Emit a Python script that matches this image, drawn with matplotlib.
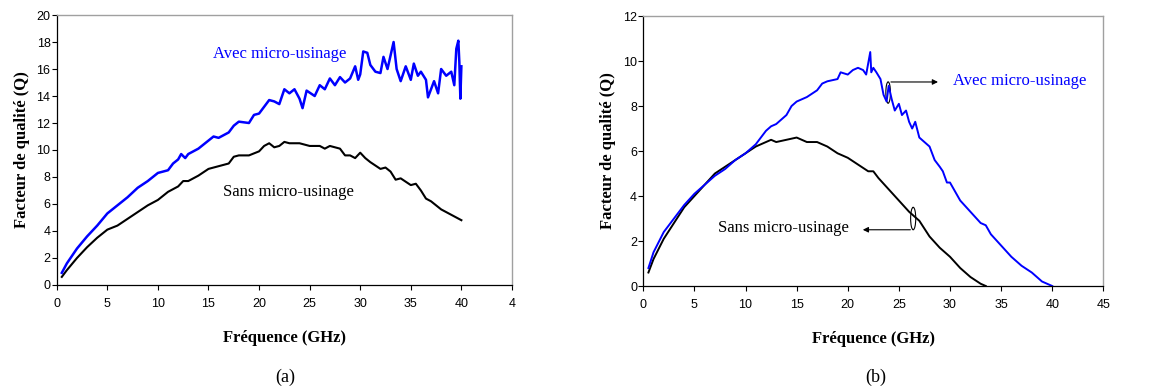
import matplotlib
matplotlib.use("Agg")
import matplotlib.pyplot as plt
from matplotlib.patches import Ellipse

# ---------------- data ----------------
# Panel (a)
a_avec_f = [0.5, 1, 2, 3, 4, 5, 6, 7, 8, 9, 10, 11, 11.5, 12, 12.3, 12.7, 13, 14, 15, 15.5,
            16, 17, 17.5, 18, 19, 19.5, 20, 20.5, 21, 21.5, 22, 22.5, 23, 23.5, 24, 24.3, 24.7,
            25.5, 26, 26.5, 27, 27.5, 28, 28.5, 29, 29.5, 29.8, 30, 30.3, 30.7, 31, 31.5, 32,
            32.3, 32.7, 33, 33.3, 33.6, 34, 34.5, 35, 35.3, 35.7, 36, 36.5, 36.7, 37, 37.3,
            37.7, 38, 38.5, 39, 39.3, 39.5, 39.7, 39.8, 39.9, 40]
a_avec_q = [0.9, 1.6, 2.7, 3.6, 4.4, 5.3, 5.9, 6.5, 7.2, 7.7, 8.3, 8.5, 9.0, 9.3, 9.7, 9.4, 9.7,
            10.1, 10.7, 11.0, 10.9, 11.3, 11.8, 12.1, 12.0, 12.6, 12.7, 13.2, 13.7, 13.6, 13.4,
            14.5, 14.2, 14.5, 13.8, 13.1, 14.4, 14.0, 14.8, 14.5, 15.3, 14.8, 15.4, 15.0, 15.3,
            16.2, 15.2, 15.6, 17.3, 17.2, 16.3, 15.8, 15.7, 16.9, 16.0, 17.0, 18.0, 16.0, 15.1,
            16.2, 15.2, 16.4, 15.5, 15.8, 15.2, 13.9, 14.5, 15.1, 14.2, 16.0, 15.5, 15.8, 14.8,
            17.5, 18.1, 16.5, 13.8, 16.2]

a_sans_f = [0.5, 1, 2, 3, 4, 5, 6, 7, 8, 9, 10, 11, 12, 12.5, 13, 14, 15, 16, 17, 17.5, 18, 19,
            20, 20.5, 21, 21.5, 22, 22.5, 23, 24, 25, 26, 26.5, 27, 28, 28.5, 29, 29.5, 30,
            30.5, 31, 32, 32.5, 33, 33.5, 34, 35, 35.5, 36, 36.5, 37, 38, 39, 40]
a_sans_q = [0.6, 1.1, 2.0, 2.8, 3.5, 4.1, 4.4, 4.9, 5.4, 5.9, 6.3, 6.9, 7.3, 7.7, 7.7, 8.1, 8.6,
            8.8, 9.0, 9.5, 9.6, 9.6, 9.9, 10.3, 10.5, 10.2, 10.3, 10.6, 10.5, 10.5, 10.3, 10.3,
            10.1, 10.3, 10.1, 9.6, 9.6, 9.4, 9.8, 9.4, 9.1, 8.6, 8.7, 8.4, 7.8, 7.9, 7.4, 7.5,
            7.0, 6.4, 6.2, 5.6, 5.2, 4.8]

# Panel (b)
b_avec_f = [0.5, 1, 2, 3, 4, 5, 6, 7, 8, 9, 10, 10.5, 11, 11.5, 12, 12.5, 13, 14, 14.5, 15, 16,
            17, 17.5, 18, 19, 19.3, 20, 20.5, 21, 21.5, 21.8, 22.2, 22.3, 22.5, 22.8, 23.2,
            23.5, 23.8, 24, 24.3, 24.6, 25, 25.3, 25.7, 26, 26.3, 26.6, 27, 28, 28.5, 29, 29.3,
            29.7, 30, 30.5, 31, 32, 33, 33.5, 34, 35, 36, 37, 38, 39, 40]
b_avec_q = [0.8, 1.5, 2.4, 3.0, 3.6, 4.1, 4.5, 4.9, 5.2, 5.6, 5.9, 6.1, 6.3, 6.6, 6.9, 7.1, 7.2,
            7.6, 8.0, 8.2, 8.4, 8.7, 9.0, 9.1, 9.2, 9.5, 9.4, 9.6, 9.7, 9.6, 9.4, 10.4, 9.5,
            9.7, 9.5, 9.2, 8.5, 8.2, 8.9, 8.3, 7.8, 8.1, 7.6, 7.8, 7.3, 7.0, 7.3, 6.6, 6.2, 5.6,
            5.3, 5.1, 4.6, 4.6, 4.2, 3.8, 3.3, 2.8, 2.7, 2.3, 1.8, 1.3, 0.9, 0.6, 0.2, 0.0]

b_sans_f = [0.5, 1, 2, 3, 4, 5, 6, 7, 8, 9, 10, 11, 12, 12.5, 13, 14, 15, 16, 17, 18, 19, 20,
            21, 22, 22.5, 23, 24, 25, 26, 27, 28, 29, 30, 31, 32, 33, 33.5]
b_sans_q = [0.6, 1.2, 2.1, 2.8, 3.5, 4.0, 4.5, 5.0, 5.3, 5.6, 5.9, 6.2, 6.4, 6.5, 6.4, 6.5, 6.6,
            6.4, 6.4, 6.2, 5.9, 5.7, 5.4, 5.1, 5.1, 4.8, 4.3, 3.8, 3.3, 2.9, 2.2, 1.7, 1.3, 0.8,
            0.4, 0.1, 0.0]

x_ticks = [0, 5, 10, 15, 20, 25, 30, 35, 40, 45]
a_x_labels = ['0', '5', '10', '15', '20', '25', '30', '35', '40', '4']
b_x_labels = ['0', '5', '10', '15', '20', '25', '30', '35', '40', '45']
a_y_ticks = [0, 2, 4, 6, 8, 10, 12, 14, 16, 18, 20]
b_y_ticks = [0, 2, 4, 6, 8, 10, 12]

ylabel = 'Facteur de qualité (Q)'
xlabel = 'Fréquence (GHz)'
lab_avec = 'Avec micro-usinage'
lab_sans = 'Sans micro-usinage'

# ---------------- figure ----------------
SERIF = 'Liberation Serif'
SANS = 'Liberation Sans'
BLUE = '#0000ff'

fig = plt.figure(figsize=(11.75, 3.92), dpi=100)
axa = fig.add_axes([0.0483, 0.273, 0.3874, 0.6887])
axb = fig.add_axes([0.5475, 0.2704, 0.3915, 0.6886])


def style(ax, yticks, xlabels):
    ax.set_xlim(0, 45)
    ax.set_ylim(yticks[0], yticks[-1])
    ax.set_xticks(x_ticks)
    ax.set_xticklabels(xlabels, fontfamily=SANS, fontsize=9)
    ax.set_yticks(yticks)
    ax.set_yticklabels([str(v) for v in yticks], fontfamily=SANS, fontsize=9)
    ax.tick_params(direction='out', length=3.5, width=0.8)
    ax.tick_params(axis='x', pad=6)
    ax.tick_params(axis='y', pad=1)
    for s in ('top', 'right'):
        ax.spines[s].set_color('#a0a0a0')
        ax.spines[s].set_linewidth(1.0)
    for s in ('left', 'bottom'):
        ax.spines[s].set_color('black')
        ax.spines[s].set_linewidth(0.9)
    ax.set_ylabel(ylabel, fontfamily=SERIF, fontweight='bold', fontsize=12, labelpad=5)
    ax.set_xlabel(xlabel, fontfamily=SERIF, fontweight='bold', fontsize=12, labelpad=14)


# Panel (a)
axa.plot(a_sans_f, a_sans_q, color='black', lw=1.5)
axa.plot(a_avec_f, a_avec_q, color=BLUE, lw=1.8)
style(axa, a_y_ticks, a_x_labels)
axa.text(15.4, 17.1, lab_avec, color=BLUE, fontfamily=SERIF, fontsize=12, va='center', ha='left')
axa.text(16.4, 6.86, lab_sans, color='black', fontfamily=SERIF, fontsize=12, va='center', ha='left')

# Panel (b)
axb.plot(b_sans_f, b_sans_q, color='black', lw=1.4)
axb.plot(b_avec_f, b_avec_q, color=BLUE, lw=1.4)
style(axb, b_y_ticks, b_x_labels)

axb.add_patch(Ellipse((23.95, 8.6), 0.45, 0.95, fill=False, ec='black', lw=0.8))
axb.annotate('', xy=(29.1, 9.07), xytext=(23.95, 9.07),
             arrowprops=dict(arrowstyle='-|>', color='black', lw=0.8, mutation_scale=8))
axb.text(30.3, 9.1, lab_avec, color=BLUE, fontfamily=SERIF, fontsize=12, va='center', ha='left')

axb.add_patch(Ellipse((26.4, 3.0), 0.5, 1.0, fill=False, ec='black', lw=0.8))
axb.annotate('', xy=(21.2, 2.5), xytext=(26.4, 2.5),
             arrowprops=dict(arrowstyle='-|>', color='black', lw=0.8, mutation_scale=8))
axb.text(20.1, 2.56, lab_sans, color='black', fontfamily=SERIF, fontsize=12, va='center', ha='right')

fig.text(285 / 1175, 1 - 377 / 392, '(a)', fontfamily=SERIF, fontsize=13, ha='center', va='center')
fig.text(876 / 1175, 1 - 377 / 392, '(b)', fontfamily=SERIF, fontsize=13, ha='center', va='center')

fig.savefig('out.png', dpi=100)
